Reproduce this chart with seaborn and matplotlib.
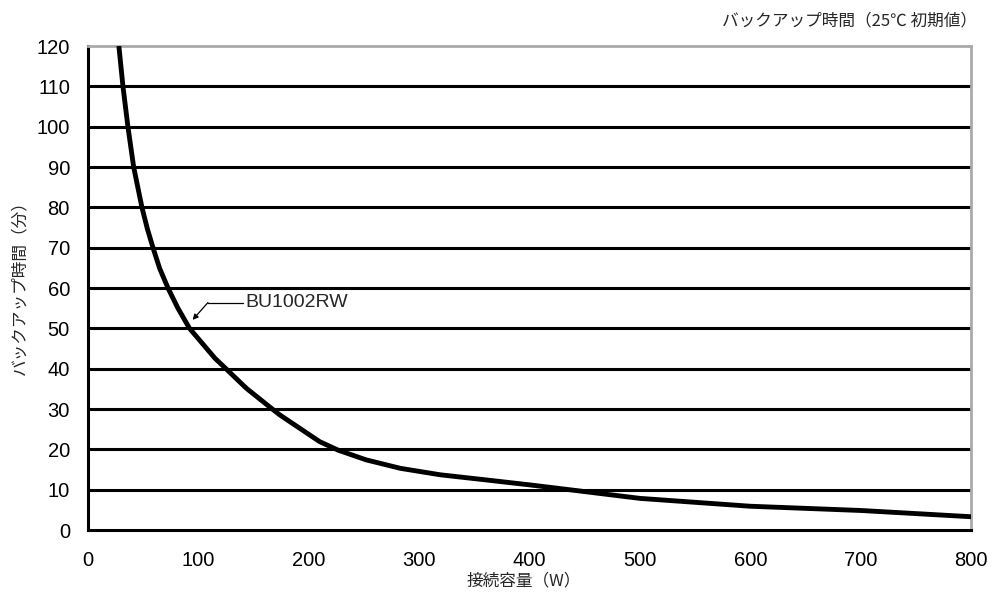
import pandas as pd
import seaborn as sns
import matplotlib.pyplot as plt

# backup time curve (W -> minutes)
load_w = [28, 31.7, 36.2, 41.4, 48.9, 53.7, 58.9, 64.9, 72.5, 81.5, 92, 115, 125,
          143.7, 167, 174, 192, 210, 226.7, 252, 283, 319, 355, 400, 436, 500,
          600, 700, 800]
backup_min = [120, 110, 100, 90, 80, 74.8, 70, 64.9, 60, 55, 50, 42.6, 40,
              35.1, 30, 28.5, 25.2, 21.9, 19.8, 17.4, 15.3, 13.7, 12.6, 11.2, 10, 7.85,
              5.9, 4.85, 3.3]
x_ticks = [0, 100, 200, 300, 400, 500, 600, 700, 800]
y_ticks = list(range(0, 130, 10))
series_name = "BU1002RW"

df = pd.DataFrame({"load": load_w, "backup": backup_min})

sns.set_theme(style="white")
plt.rcParams["font.family"] = ["Liberation Sans", "Noto Sans CJK JP", "DejaVu Sans"]

fig = plt.figure(figsize=(9.95, 6.03), dpi=100)
ax = fig.add_axes([0.0884, 0.121, 0.8875, 0.8027])

for yv in y_ticks[1:-1]:
    ax.axhline(yv, color="black", lw=2.2, zorder=1)

sns.lineplot(data=df, x="load", y="backup", ax=ax, color="black", lw=3.5,
             zorder=3, solid_joinstyle="round", solid_capstyle="butt")

ax.set_xlim(0, 800)
ax.set_ylim(0, 120)
ax.set_xticks(x_ticks)
ax.set_yticks(y_ticks)
ax.tick_params(axis="x", direction="in", length=5, width=2, labelsize=14.5,
               pad=15, colors="black")
ax.tick_params(axis="y", length=0, labelsize=14.5, pad=13, colors="black")
for s in ["left", "bottom"]:
    ax.spines[s].set_color("black")
    ax.spines[s].set_linewidth(2.2)
for s in ["top", "right"]:
    ax.spines[s].set_color("#aaaaaa")
    ax.spines[s].set_linewidth(2)

ax.set_xlabel("接続容量（W）", fontsize=12, family=["Noto Sans CJK JP"])
ax.set_ylabel("バックアップ時間（分）", fontsize=12, family=["Noto Sans CJK JP"])
ax.xaxis.set_label_coords(0.494, -0.087)
ax.yaxis.set_label_coords(-0.067, 0.51)

ax.annotate("", xy=(94.8, 52.1), xytext=(108.7, 56.4),
            arrowprops=dict(arrowstyle="-|>", color="black", lw=0.9,
                            mutation_scale=8, shrinkA=0, shrinkB=0))
ax.plot([108.7, 140.4], [56.4, 56.4], color="black", lw=0.9)
ax.text(142.2, 56.5, series_name, fontsize=14, va="center", ha="left")

fig.text(0.982, 0.965, "バックアップ時間（25℃ 初期値）", fontsize=12,
         ha="right", va="center", family=["Noto Sans CJK JP", "DejaVu Sans"])

fig.savefig("out.png", dpi=100)
